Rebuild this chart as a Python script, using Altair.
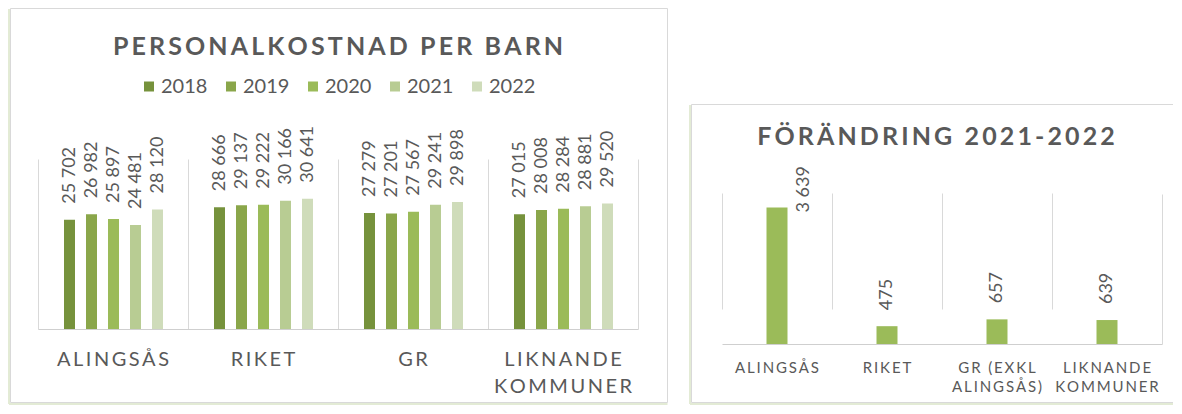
import altair as alt
import pandas as pd

# ---------------- data ----------------
regions = ["ALINGSÅS", "RIKET", "GR", "LIKNANDE KOMMUNER"]
years = ["2018", "2019", "2020", "2021", "2022"]
cost_2018 = [25702, 28666, 27279, 27015]
cost_2019 = [26982, 29137, 27201, 28008]
cost_2020 = [25897, 29222, 27567, 28284]
cost_2021 = [24481, 30166, 29241, 28881]
cost_2022 = [28120, 30641, 29898, 29520]

change_regions = ["ALINGSÅS", "RIKET", "GR (EXKL ALINGSÅS)", "LIKNANDE KOMMUNER"]
change_values = [3639, 475, 657, 639]

title_left = "PERSONALKOSTNAD PER BARN"
title_right = "FÖRÄNDRING 2021-2022"

year_colors = ["#76923c", "#8aa64a", "#9bbb59", "#b8cc93", "#cfdcba"]
bar_color = "#9bbb59"
text_color = "#595959"
grid_color = "#d9d9d9"
shadow_color = "#e3ebd5"
FONT = "Lato"
THIN = "\u2009"


def spaced(label):
    """Letter-spaced label; long labels broken into two lines ('|')."""
    if len(label) > 10:
        words = label.split(" ")
        lines = [" ".join(words[:-1]), words[-1]]
    else:
        lines = [label]
    return "|".join(THIN.join(line) for line in lines)


left_labels = [spaced(r) for r in regions]
right_labels = [spaced(r) for r in change_regions]

series = [cost_2018, cost_2019, cost_2020, cost_2021, cost_2022]
rows = []
for y, vals in zip(years, series):
    for lab, v in zip(left_labels, vals):
        rows.append({"region": lab, "year": y, "value": v})
left_df = pd.DataFrame(rows)
right_df = pd.DataFrame({"region": right_labels, "value": change_values})
one = pd.DataFrame({"k": [0]})

fmt = "replace(format(datum.value, ','), ',', ' ')"


def x_axis(size, pad, lh):
    return alt.Axis(
        title=None, labelExpr="split(datum.label, '|')", labelAngle=0,
        labelFont=FONT, labelFontSize=size, labelColor=text_color,
        labelPadding=pad, labelLineHeight=lh, labelBaseline="top",
        ticks=False, tickSize=0, domainColor="#cfcfcf", domainWidth=1,
        grid=True, gridColor=grid_color, gridWidth=1, bandPosition=0,
    )


y_axis = alt.Axis(orient="right", labels=False, ticks=False, grid=False,
                  title=None, domainColor=grid_color)


def rule(x, y, x2=None, y2=None, color=grid_color, w=1):
    enc = {"x": alt.value(x), "y": alt.value(y)}
    if x2 is not None:
        enc["x2"] = alt.value(x2)
    if y2 is not None:
        enc["y2"] = alt.value(y2)
    return alt.Chart(one).mark_rule(color=color, strokeWidth=w).encode(**enc)


# ---------------- left chart ----------------
xl = alt.X("region:N", sort=left_labels,
           scale=alt.Scale(paddingInner=0, paddingOuter=0),
           axis=x_axis(20, 20, 27))
xo = alt.XOffset("year:N", sort=years,
                 scale=alt.Scale(range=[20.5, 130.5], paddingInner=0.5, paddingOuter=0.25))
yl = alt.Y("value:Q", scale=alt.Scale(domain=[0, 40000]), axis=y_axis)

base_l = alt.Chart(left_df)
bars_l = base_l.mark_bar().encode(
    x=xl, xOffset=xo, y=yl,
    color=alt.Color(
        "year:N", sort=years,
        scale=alt.Scale(domain=years, range=year_colors),
        legend=alt.Legend(
            orient="none", legendX=101, legendY=-82.5, direction="horizontal",
            title=None, symbolType="square", symbolSize=100,
            symbolStrokeWidth=0, labelFont=FONT, labelFontSize=20,
            labelColor=text_color, columnPadding=13, labelOffset=2,
            padding=0,
        ),
    ),
)
labels_l = base_l.transform_calculate(txt=fmt).mark_text(
    angle=270, align="left", baseline="middle", dx=16,
    font=FONT, fontSize=18, color=text_color,
).encode(x=xl, xOffset=xo, y=yl, text="txt:N")

frame_l = alt.Chart(one).mark_rect(filled=False, stroke=grid_color, strokeWidth=1).encode(
    x=alt.value(-27.5), x2=alt.value(629.5), y=alt.value(-150.5), y2=alt.value(243.5))

left = alt.layer(
    frame_l,
    rule(-29, -150, y2=245, color=shadow_color, w=2),
    rule(-29, 245, x2=629.5, color=shadow_color, w=2),
    bars_l, labels_l,
).properties(
    width=600, height=170,
    title=alt.Title(THIN.join(title_left), font=FONT, fontSize=25,
                    fontWeight="bold", color=text_color, anchor="middle",
                    frame="group", baseline="alphabetic", offset=-72),
)

# ---------------- right chart ----------------
xr = alt.X("region:N", sort=right_labels,
           scale=alt.Scale(paddingInner=0, paddingOuter=0),
           axis=x_axis(15, 16, 19))
yr = alt.Y("value:Q", scale=alt.Scale(domain=[0, 4000], range=[185, 35]), axis=y_axis)

base_r = alt.Chart(right_df)
# white band hiding the top of the category separators (plot starts lower here)
cover_r = alt.Chart(one).mark_rect(color="white").encode(
    x=alt.value(-2), x2=alt.value(439), y=alt.value(-1), y2=alt.value(34.5))
bars_r = base_r.mark_bar(size=21, color=bar_color).encode(x=xr, y=yr)
labels_r = base_r.transform_filter("datum.value < 3000").transform_calculate(txt=fmt).mark_text(
    angle=270, align="left", baseline="middle", dx=16,
    font=FONT, fontSize=18, color=text_color,
).encode(x=xr, y=yr, text="txt:N")
labels_r_big = base_r.transform_filter("datum.value >= 3000").transform_calculate(txt=fmt).mark_text(
    angle=270, align="left", baseline="middle", dx=-5, dy=27,
    font=FONT, fontSize=18, color=text_color,
).encode(x=xr, y=yr, text="txt:N")

right = alt.layer(
    rule(-30.5, -54.5, x2=451),
    rule(-30.5, -54.5, y2=243.5),
    rule(-30.5, 243.5, x2=451),
    rule(-32, -54, y2=245, color=shadow_color, w=2),
    rule(-32, 245, x2=451, color=shadow_color, w=2),
    cover_r, bars_r, labels_r, labels_r_big,
).properties(
    width=440, height=185,
    title=alt.Title(THIN.join(title_right), font=FONT, fontSize=25,
                    fontWeight="bold", color=text_color, anchor="middle",
                    frame="group", baseline="alphabetic", offset=-66, dx=-6),
)

chart = alt.hconcat(left, right, spacing=20).resolve_scale(
    color="independent").properties(padding=0).configure_view(stroke=None)

chart.save("out.html", embed_options={"renderer": "svg", "actions": False})
